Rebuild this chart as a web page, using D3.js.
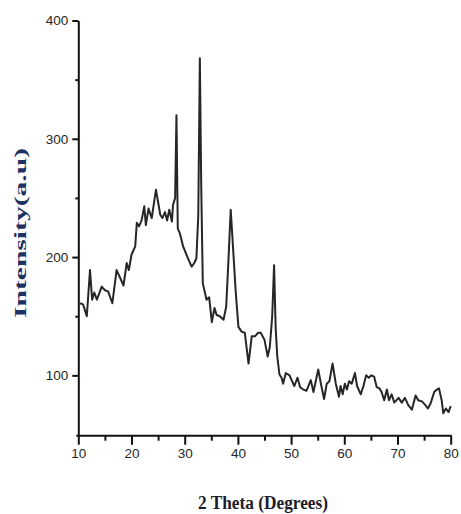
<!DOCTYPE html>
<html>
<head>
<meta charset="utf-8">
<script src="https://cdn.jsdelivr.net/npm/d3@7"></script>
<style>
    body { margin: 0; background: #fff; }
    #chart { width: 461px; height: 514px; }
    .tick text { font-family: "Liberation Sans", Arial, sans-serif; font-size: 13.5px; fill: #262626; }
    .title { font-family: "Liberation Serif", "Times New Roman", serif; font-weight: bold; }
</style>
</head>
<body>
<div id="chart"></div>
<script>
// data
const twoTheta = [10.3, 10.9, 11.6, 12.2, 12.6, 13.0, 13.5, 14.4, 15.0, 15.6, 16.4, 17.2, 17.8, 18.5, 19.1,
    19.5, 20.0, 20.7, 21.0, 21.4, 21.9, 22.4, 22.7, 23.2, 23.8, 24.6, 25.4, 25.8, 26.3, 26.7, 27.1, 27.6,
    27.8, 28.2, 28.45, 28.7, 29.1, 29.7, 30.7, 31.3, 31.8, 32.2, 32.55, 32.85, 33.1, 33.4, 34.1, 34.6, 35.1,
    35.6, 36.0, 36.6, 37.3, 37.8, 38.2, 38.65, 39.1, 39.6, 40.1, 40.7, 41.3, 42.0, 42.6, 43.2, 43.8, 44.3,
    45.0, 45.6, 46.0, 46.45, 46.8, 47.1, 47.4, 47.8, 48.2, 48.5, 49.0, 49.7, 50.1, 50.6, 51.2, 51.7, 52.3,
    52.9, 53.7, 54.2, 55.1, 55.6, 56.2, 56.7, 57.2, 57.8, 58.4, 59.0, 59.3, 59.7, 60.1, 60.5, 60.9, 61.4,
    62.0, 62.4, 63.1, 63.6, 64.1, 64.6, 65.1, 65.6, 66.1, 66.6, 67.0, 67.5, 68.0, 68.4, 68.9, 69.4, 70.2,
    70.8, 71.4, 72.0, 72.7, 73.4, 73.9, 74.6, 75.2, 75.7, 76.2, 76.9, 77.4, 77.8, 78.3, 78.6, 79.1, 79.6, 80.0];
const intensity = [161, 160, 150, 189, 164, 170, 164, 175, 172, 171, 161, 189, 183, 176, 195,
    189, 202, 209, 229, 226, 231, 243, 227, 241, 233, 257, 236, 233, 238, 231, 240, 230,
    244, 250, 320, 224, 220, 209, 198, 192, 195, 199, 235, 368, 262, 178, 164, 166, 145,
    157, 151, 150, 147, 158, 195, 240, 207, 170, 141, 137, 136, 110, 133, 133, 136, 136,
    130, 116, 124, 150, 193, 140, 116, 101, 98, 93, 102, 100, 96, 91, 98, 90, 88,
    87, 96, 86, 105, 93, 80, 93, 95, 110, 93, 82, 91, 84, 93, 88, 95, 93,
    102, 91, 84, 91, 100, 98, 100, 99, 90, 89, 86, 79, 88, 79, 84, 77, 81,
    77, 81, 75, 71, 83, 79, 78, 75, 72, 76, 86, 88, 89, 79, 68, 72, 69, 74];
const xTicks = [10, 20, 30, 40, 50, 60, 70, 80];
const xMinorTicks = [15, 25, 35, 45, 55, 65, 75];
const yTicks = [100, 200, 300, 400];
const yMinorTicks = [150, 250, 350];

function drawChart(element) {
    const width = 461, height = 514;
    const margin = { top: 20.5, right: 10.3, bottom: 78.3, left: 78.3 };

    const svg = d3.select(element).append('svg')
        .attr('width', width)
        .attr('height', height);

    const xScale = d3.scaleLinear()
        .domain([10, 80])
        .range([margin.left, width - margin.right]);

    const yScale = d3.scaleLinear()
        .domain([49, 400])
        .range([height - margin.bottom, margin.top]);

    // minor ticks first, so the major axis sits on top
    svg.append('g')
        .attr('transform', `translate(0,${height - margin.bottom})`)
        .call(d3.axisBottom(xScale).tickValues(xMinorTicks).tickSize(5).tickFormat(''))
        .call(g => g.select('.domain').remove())
        .selectAll('line').attr('stroke', '#111').attr('stroke-width', 2);

    svg.append('g')
        .attr('transform', `translate(${margin.left},0)`)
        .call(d3.axisLeft(yScale).tickValues(yMinorTicks).tickSize(3).tickFormat(''))
        .call(g => g.select('.domain').remove())
        .selectAll('line').attr('stroke', '#111').attr('stroke-width', 2);

    // x axis
    const xAxis = svg.append('g')
        .attr('transform', `translate(0,${height - margin.bottom})`)
        .call(d3.axisBottom(xScale).tickValues(xTicks).tickSize(9).tickSizeOuter(0).tickPadding(4));
    xAxis.select('.domain').attr('stroke', '#111').attr('stroke-width', 2)
        .attr('d', `M${margin.left - 2},0H${width - margin.right + 1}`);
    xAxis.selectAll('.tick line').attr('stroke', '#111').attr('stroke-width', 2);

    // y axis
    const yAxis = svg.append('g')
        .attr('transform', `translate(${margin.left},0)`)
        .call(d3.axisLeft(yScale).tickValues(yTicks).tickSize(6).tickSizeOuter(0).tickPadding(4));
    yAxis.select('.domain').attr('stroke', '#111').attr('stroke-width', 2);
    yAxis.selectAll('.tick line').attr('stroke', '#111').attr('stroke-width', 2);

    // diffraction pattern
    const line = d3.line()
        .x((d, i) => xScale(twoTheta[i]))
        .y(d => yScale(d));

    svg.append('path')
        .datum(intensity)
        .attr('d', line)
        .attr('fill', 'none')
        .attr('stroke', '#262626')
        .attr('stroke-width', 2)
        .attr('stroke-linejoin', 'round');

    // axis titles
    svg.append('text')
        .attr('class', 'title')
        .attr('x', 263)
        .attr('y', 509)
        .attr('text-anchor', 'middle')
        .attr('textLength', 130)
        .attr('lengthAdjust', 'spacingAndGlyphs')
        .style('font-size', '18px')
        .style('fill', '#1c1c2a')
        .text('2 Theta (Degrees)');

    svg.append('text')
        .attr('class', 'title')
        .attr('transform', 'translate(26,233) rotate(-90)')
        .attr('text-anchor', 'middle')
        .attr('textLength', 170)
        .attr('lengthAdjust', 'spacingAndGlyphs')
        .style('font-size', '17px')
        .style('fill', '#1e3163')
        .text('Intensity(a.u)');
}

drawChart(document.getElementById('chart'));
</script>
</body>
</html>
